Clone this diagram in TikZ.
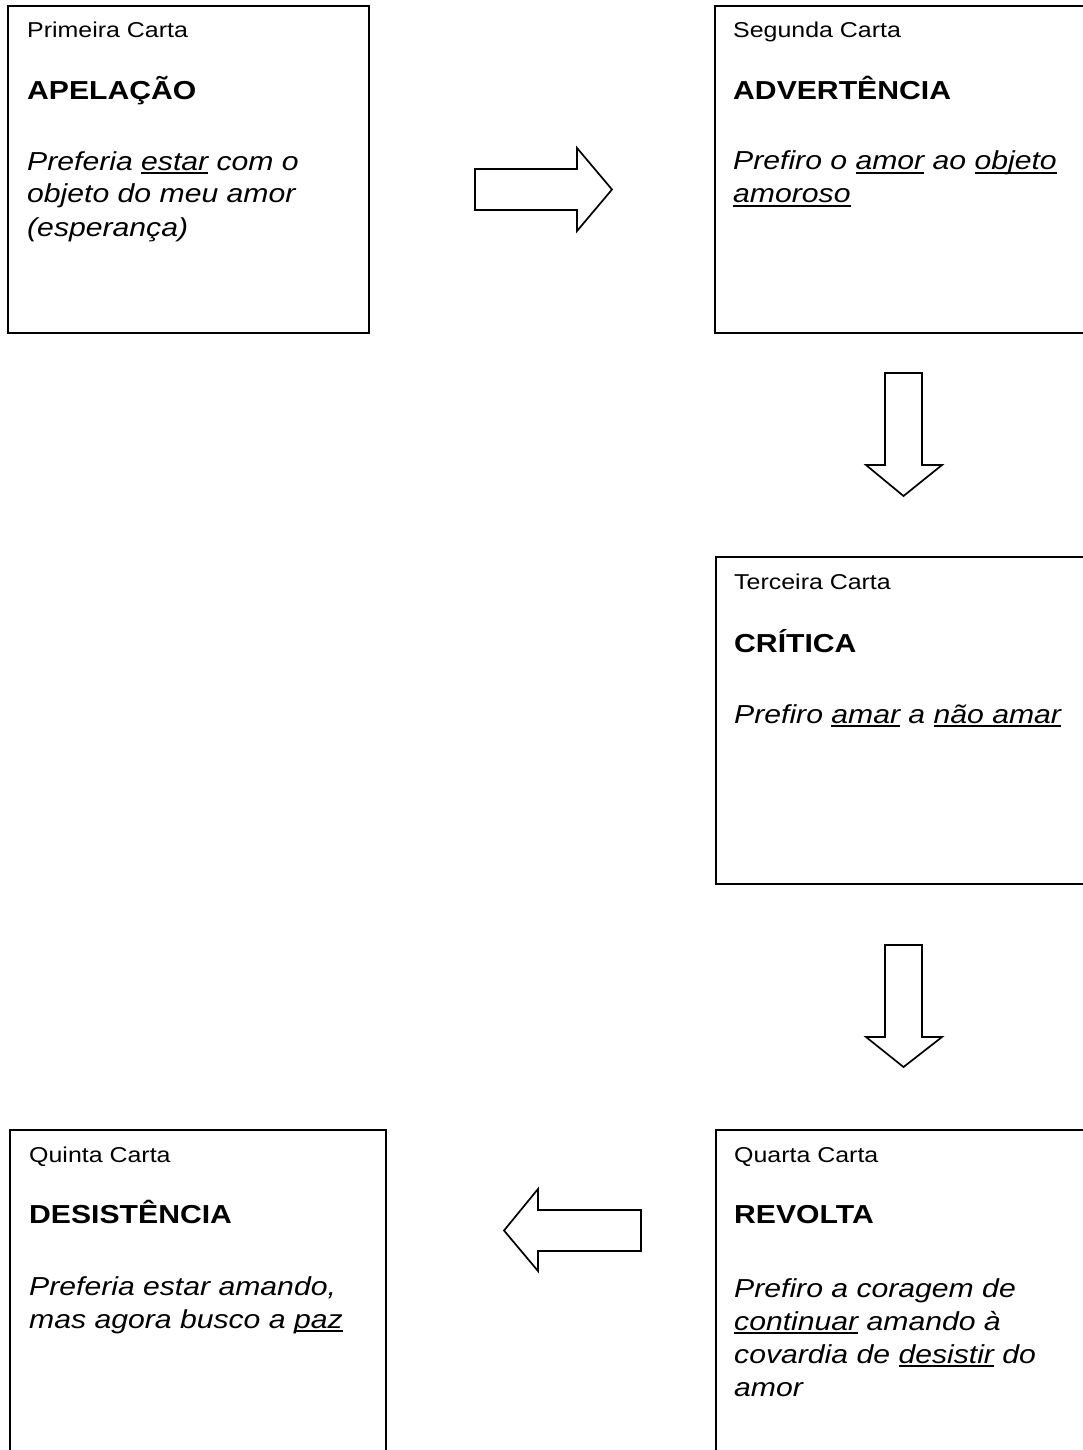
\documentclass[tikz,border=0pt]{standalone}
\usepackage{fontspec}
\setmainfont{Liberation Sans}[FakeStretch=1.16]
\usetikzlibrary{positioning}

\newlength\ulwd
\newcommand\ulword[1]{\settowidth\ulwd{#1}\rlap{\rule[-0.14em]{\ulwd}{0.08em}}#1}

\tikzset{
  carta/.style={draw, line width=1.8pt, inner sep=0pt, anchor=north west},
  rotulo/.style={anchor=base west, inner sep=0pt, font=\fontsize{21.5}{26}\selectfont},
  titulo/.style={anchor=base west, inner sep=0pt, font=\fontsize{26}{31}\selectfont\bfseries},
  % base of a multi-line node = baseline of its last line
  texto/.style={anchor=base west, inner sep=0pt, align=left, font=\fontsize{26}{33}\selectfont\itshape},
  seta/.style={draw, line width=1.7pt, line join=miter}
}

\begin{document}
\begin{tikzpicture}[x=1pt, y=-1pt]
  \path[use as bounding box] (0,0) rectangle (1083,1450);
  \clip (0,0) rectangle (1083,1450);

  % the five letters
  \node[carta, minimum width=361pt, minimum height=327pt] (c1) at (7,5) {};
  \node[carta, minimum width=400pt, minimum height=327pt] (c2) at (714,5) {};
  \node[carta, minimum width=400pt, minimum height=327pt] (c3) at (715,556) {};
  \node[carta, minimum width=400pt, minimum height=400pt] (c4) at (715,1129) {};
  \node[carta, minimum width=376pt, minimum height=400pt] (c5) at (9,1129) {};

  \node[rotulo] (r1) at ([shift={(20,33)}]c1.north west) {Primeira Carta};
  \node[titulo] (t1) at ([shift={(20,95)}]c1.north west) {APELAÇÃO};
  \node[texto] (x1) at ([shift={(20,231)}]c1.north west)
    {Preferia \ulword{estar} com o\\objeto do meu amor\\(esperança)};

  \node[rotulo] (r2) at ([shift={(19,33)}]c2.north west) {Segunda Carta};
  \node[titulo] (t2) at ([shift={(19,95)}]c2.north west) {ADVERTÊNCIA};
  \node[texto] (x2) at ([shift={(19,198)}]c2.north west)
    {Prefiro o \ulword{amor} ao \ulword{objeto}\\\ulword{amoroso}};

  \node[rotulo] (r3) at ([shift={(19,33)}]c3.north west) {Terceira Carta};
  \node[titulo] (t3) at ([shift={(19,96)}]c3.north west) {CRÍTICA};
  \node[texto] (x3) at ([shift={(19,167)}]c3.north west)
    {Prefiro \ulword{amar} a \ulword{não amar}};

  \node[rotulo] (r4) at ([shift={(19,33)}]c4.north west) {Quarta Carta};
  \node[titulo] (t4) at ([shift={(19,94)}]c4.north west) {REVOLTA};
  \node[texto] (x4) at ([shift={(19,267)}]c4.north west)
    {Prefiro a coragem de\\\ulword{continuar} amando à\\covardia de \ulword{desistir} do\\amor};

  \node[rotulo] (r5) at ([shift={(20,33)}]c5.north west) {Quinta Carta};
  \node[titulo] (t5) at ([shift={(20,94)}]c5.north west) {DESISTÊNCIA};
  \node[texto] (x5) at ([shift={(20,199)}]c5.north west)
    {Preferia estar amando,\\mas agora busco a \ulword{paz}};

  % block arrows between the letters
  \draw[seta] (475,169) -- (577,169) -- (577,148) -- (612,189.5) -- (577,231) -- (577,210) -- (475,210) -- cycle;
  \draw[seta] (885,373) -- (922,373) -- (922,465) -- (942,465) -- (903.5,496) -- (866,465) -- (885,465) -- cycle;
  \draw[seta] (885,945) -- (922,945) -- (922,1037) -- (942,1037) -- (903.5,1067) -- (866,1037) -- (885,1037) -- cycle;
  \draw[seta] (641,1210) -- (538,1210) -- (538,1189) -- (504,1230.5) -- (538,1271) -- (538,1251) -- (641,1251) -- cycle;
\end{tikzpicture}
\end{document}
